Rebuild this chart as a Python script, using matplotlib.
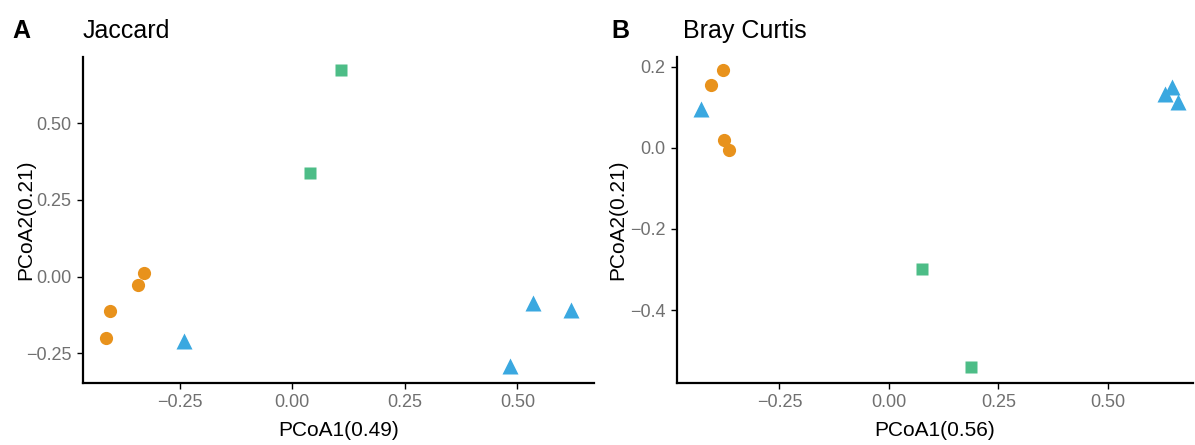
import matplotlib
matplotlib.use("Agg")
import matplotlib.pyplot as plt
from matplotlib.ticker import FuncFormatter

plt.rcParams["font.family"] = ["Liberation Sans", "DejaVu Sans"]

# PCoA coordinates per group (x = PCoA1, y = PCoA2)
jac_orange_x = [-0.328, -0.343, -0.405, -0.414]
jac_orange_y = [0.011, -0.029, -0.111, -0.199]
jac_green_x = [0.109, 0.040]
jac_green_y = [0.673, 0.339]
jac_blue_x = [-0.241, 0.534, 0.619, 0.484]
jac_blue_y = [-0.209, -0.087, -0.109, -0.290]

bc_orange_x = [-0.379, -0.407, -0.377, -0.364]
bc_orange_y = [0.193, 0.156, 0.020, -0.004]
bc_green_x = [0.075, 0.187]
bc_green_y = [-0.299, -0.541]
bc_blue_x = [-0.430, 0.630, 0.645, 0.659]
bc_blue_y = [0.096, 0.134, 0.150, 0.112]

orange = "#E8921C"
green = "#4DBD87"
blue = "#3AA8E0"
tick_grey = "#707070"

fig = plt.figure(figsize=(11.95, 4.45), dpi=100)
axA = fig.add_axes([0.0692, 0.1393, 0.4278, 0.7333])
axB = fig.add_axes([0.5664, 0.1393, 0.4316, 0.7333])


def fmt(decimals):
    # ggplot-style labels with a proper minus sign
    return FuncFormatter(lambda v, pos: f"{v:.{decimals}f}".replace("-", "\u2212"))


def draw(ax, ox, oy, gx, gy, bx, by):
    ax.plot(ox, oy, "o", color=orange, ms=9.5, mec="none")
    ax.plot(gx, gy, "s", color=green, ms=9.3, mec="none")
    ax.plot(bx, by, "^", color=blue, ms=12, mec="none")
    for side in ["top", "right"]:
        ax.spines[side].set_visible(False)
    for side in ["left", "bottom"]:
        ax.spines[side].set_linewidth(1.6)
    ax.tick_params(direction="out", length=4, width=1.0, labelsize=13,
                   labelcolor=tick_grey, pad=4)


draw(axA, jac_orange_x, jac_orange_y, jac_green_x, jac_green_y, jac_blue_x, jac_blue_y)
axA.set_xlim(-0.465, 0.670)
axA.set_ylim(-0.347, 0.717)
axA.set_xticks([-0.25, 0.0, 0.25, 0.5])
axA.set_yticks([-0.25, 0.0, 0.25, 0.5])
axA.xaxis.set_major_formatter(fmt(2))
axA.yaxis.set_major_formatter(fmt(2))
axA.set_xlabel("PCoA1(0.49)", fontsize=15)
axA.set_ylabel("PCoA2(0.21)", fontsize=15)
axA.xaxis.set_label_coords(0.5, -0.115)
axA.yaxis.set_label_coords(-0.093, 0.5)

draw(axB, bc_orange_x, bc_orange_y, bc_green_x, bc_green_y, bc_blue_x, bc_blue_y)
axB.set_xlim(-0.484, 0.693)
axB.set_ylim(-0.580, 0.225)
axB.set_xticks([-0.25, 0.0, 0.25, 0.5])
axB.set_yticks([-0.4, -0.2, 0.0, 0.2])
axB.xaxis.set_major_formatter(fmt(2))
axB.yaxis.set_major_formatter(fmt(1))
axB.set_xlabel("PCoA1(0.56)", fontsize=15)
axB.set_ylabel("PCoA2(0.21)", fontsize=15)
axB.xaxis.set_label_coords(0.5, -0.115)
axB.yaxis.set_label_coords(-0.097, 0.5)

# panel letters and titles
fig.text(0.010, 0.931, "A", fontsize=18, fontweight="bold", va="center")
fig.text(0.0695, 0.931, "Jaccard", fontsize=18, va="center")
fig.text(0.512, 0.931, "B", fontsize=18, fontweight="bold", va="center")
fig.text(0.5715, 0.931, "Bray Curtis", fontsize=18, va="center")

fig.savefig("out.png", dpi=100)
